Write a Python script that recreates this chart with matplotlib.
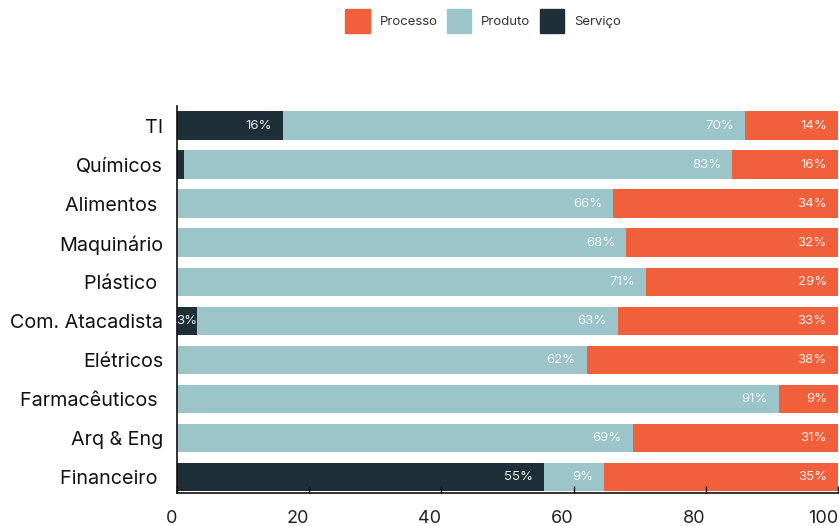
import numpy as np
import matplotlib.pyplot as plt
from matplotlib.patches import Patch
import matplotlib.transforms as mtransforms

plt.rcParams['font.family'] = ['Inter', 'DejaVu Sans']

# categories, top to bottom
sectors = ["TI", "Químicos", "Alimentos ", "Maquinário", "Plástico ",
           "Com. Atacadista", "Elétricos", "Farmacêuticos ", "Arq & Eng", "Financeiro "]
servico = [16, 1, 0, 0, 0, 3, 0, 0, 0, 55]
produto = [70, 83, 66, 68, 71, 63, 62, 91, 69, 9]
processo = [14, 16, 34, 32, 29, 33, 38, 9, 31, 35]
ticks = [0, 20, 40, 60, 80, 100]

c_serv = "#1E2F38"
c_prod = "#9BC5C8"
c_proc = "#F1603A"

fig = plt.figure(figsize=(8.39, 5.26), dpi=100)
ax = fig.add_axes([177/839, 1-493/526, (838-177)/839, (493-106)/526])

y = np.arange(len(sectors))
h = 0.74
serv = np.array(servico, dtype=float)
prod = np.array(produto, dtype=float)
proc = np.array(processo, dtype=float)
# 100% stacked: each row scaled to fill the axis
tot = (serv + prod + proc) / 100.0
s_n, p_n, r_n = serv/tot, prod/tot, proc/tot

ax.barh(y, s_n, h, color=c_serv)
ax.barh(y, p_n, h, left=s_n, color=c_prod)
ax.barh(y, r_n, h, left=s_n+p_n, color=c_proc)

# value labels, right aligned near the end of each segment
off_big = mtransforms.offset_copy(ax.transData, fig=fig, x=-8, y=0, units='points')
off_small = mtransforms.offset_copy(ax.transData, fig=fig, x=0, y=0, units='points')
for i in range(len(sectors)):
    ends = [s_n[i], s_n[i]+p_n[i], 100]
    for val, end in zip([servico[i], produto[i], processo[i]], ends):
        if val >= 2:
            tr = off_small if val < 5 else off_big
            ax.text(end, i, "{}%".format(val), transform=tr, ha='right', va='center',
                    color='#F2F5F5', fontsize=9.5, alpha=0.95, clip_on=False)

ax.set_xlim(0, 100)
ax.set_ylim(9.41, -0.51)
ax.set_yticks(y)
ax.set_yticklabels(sectors, fontsize=14.2, color='#111111')
ax.set_xticks(ticks)
ax.set_xticklabels([str(t) for t in ticks], fontsize=13, color='#222222', ha='right')
ax.tick_params(axis='y', length=0, pad=10)
ax.tick_params(axis='x', direction='in', length=5, width=1, pad=12, color='#111111')

for s in ['top', 'right']:
    ax.spines[s].set_visible(False)
ax.spines['left'].set_color('#111111')
ax.spines['bottom'].set_color('#111111')
ax.spines['left'].set_linewidth(1.2)
ax.spines['bottom'].set_linewidth(1.2)

handles = [Patch(color=c_proc), Patch(color=c_prod), Patch(color=c_serv)]
fig.legend(handles, ["Processo", "Produto", "Serviço"], loc='center',
           bbox_to_anchor=(483/839, 1-21/526), ncol=3, frameon=False,
           fontsize=9.5, handlelength=1.85, handleheight=2.4, handletextpad=0.75,
           columnspacing=0.7, labelcolor='#333333')

fig.savefig("out.png", dpi=100)
